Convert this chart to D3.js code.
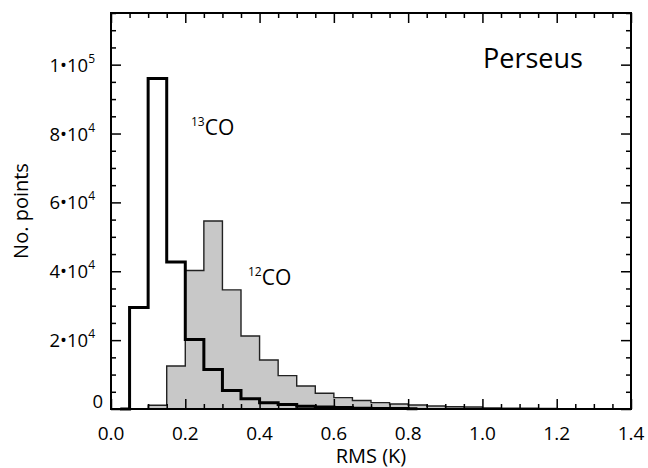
<!DOCTYPE html>
<html>
<head>
<meta charset="utf-8">
<script src="https://cdn.jsdelivr.net/npm/d3@7"></script>
<style>
  body { margin: 0; background: #fff; }
  text { font-family: "Open Sans", "DejaVu Sans", sans-serif; fill: #000; }
</style>
</head>
<body>
<div id="container"></div>
<script>
// bin centres (K) and counts
const centers13 = [0.025, 0.075, 0.125, 0.175, 0.225, 0.275, 0.325, 0.375, 0.425, 0.475, 0.525, 0.575, 0.625, 0.675, 0.725, 0.775, 0.825];
const counts13  = [0, 29500, 96000, 42700, 20200, 11500, 5400, 3000, 1850, 1300, 800, 580, 400, 250, 170, 110, 70];

const centers12 = [0.025, 0.075, 0.125, 0.175, 0.225, 0.275, 0.325, 0.375, 0.425, 0.475, 0.525, 0.575, 0.625, 0.675,
                   0.725, 0.775, 0.825, 0.875, 0.925, 0.975, 1.025, 1.075, 1.125, 1.175, 1.225, 1.275, 1.325, 1.375];
const counts12  = [0, 0, 1100, 12500, 40200, 54600, 34600, 21200, 14250, 9700, 6700, 4560, 3300, 2450,
                   1850, 1450, 1150, 870, 670, 560, 300, 250, 200, 150, 100, 80, 60, 40];

const xMajor = [0.0, 0.2, 0.4, 0.6, 0.8, 1.0, 1.2, 1.4];
const yMajor = [0, 20000, 40000, 60000, 80000, 100000];
const yLabels = [["0", ""], ["2\u202210", "4"], ["4\u202210", "4"], ["6\u202210", "4"], ["8\u202210", "4"], ["1\u202210", "5"]];

const w = 648, h = 468;
const pl = 111, pr = 631, pt = 13, pb = 409;

const x = d3.scaleLinear().domain([0, 1.4]).range([pl, pr]);
const y = d3.scaleLinear().domain([0, 115000]).range([pb, pt]);

const svg = d3.select("#container").append("svg")
  .attr("width", w).attr("height", h);

const pts12 = centers12.map((c, i) => [c, counts12[i]]);
const pts13 = centers13.map((c, i) => [c, counts13[i]]);

// 12CO filled histogram
svg.append("path")
  .datum(pts12)
  .attr("d", d3.area().curve(d3.curveStep).x(d => x(d[0])).y0(y(0)).y1(d => y(d[1])))
  .attr("fill", "#c8c8c8");
svg.append("path")
  .datum(pts12)
  .attr("d", d3.line().curve(d3.curveStep).x(d => x(d[0])).y(d => y(d[1])))
  .attr("fill", "none").attr("stroke", "#222").attr("stroke-width", 1.4);

// 13CO outline histogram
svg.append("path")
  .datum(pts13)
  .attr("d", d3.line().curve(d3.curveStep).x(d => x(d[0])).y(d => y(d[1])))
  .attr("fill", "none").attr("stroke", "#000").attr("stroke-width", 3)
  .attr("stroke-linejoin", "miter");

// axes: ticks on all four sides
const xMinor = d3.range(0, 1.4001, 0.05).filter(v => Math.abs(v / 0.2 - Math.round(v / 0.2)) > 1e-6);
const yMinor = d3.range(0, 115001, 5000).filter(v => v % 20000 !== 0);

function axis(gen, scale, major, minor, tf) {
  const g = svg.append("g").attr("transform", tf);
  g.call(gen(scale).tickValues(major).tickSize(10).tickFormat(""));
  g.append("g").call(gen(scale).tickValues(minor).tickSize(5).tickFormat(""));
  g.selectAll(".domain").remove();
  g.selectAll("line").attr("stroke", "#000").attr("stroke-width", 1.5);
  return g;
}
axis(d3.axisTop, x, xMajor, xMinor, `translate(0,${pb})`);
axis(d3.axisBottom, x, xMajor, xMinor, `translate(0,${pt})`);
axis(d3.axisRight, y, yMajor, yMinor, `translate(${pl},0)`);
axis(d3.axisLeft, y, yMajor, yMinor, `translate(${pr},0)`);

svg.append("rect")
  .attr("x", pl).attr("y", pt).attr("width", pr - pl).attr("height", pb - pt)
  .attr("fill", "none").attr("stroke", "#000").attr("stroke-width", 2);

// tick labels
svg.selectAll(".xlab").data(xMajor).enter().append("text")
  .attr("x", d => x(d)).attr("y", 440)
  .attr("text-anchor", "middle").attr("font-size", 19)
  .text(d => d.toFixed(1));

const yl = svg.selectAll(".ylab").data(yMajor).enter().append("text")
  .attr("x", (d, i) => i === 0 ? 103 : 95)
  .attr("y", (d, i) => y(d) + (i === 0 ? -1 : 7))
  .attr("text-anchor", "end").attr("font-size", 18.5);
yl.append("tspan").text((d, i) => yLabels[i][0]);
yl.append("tspan").attr("font-size", 12).attr("dy", -9).text((d, i) => yLabels[i][1]);

// titles
svg.append("text").attr("x", (pl + pr) / 2).attr("y", 463)
  .attr("text-anchor", "middle").attr("font-size", 20).text("RMS (K)");
svg.append("text").attr("transform", `translate(28,${(pt + pb) / 2}) rotate(-90)`)
  .attr("text-anchor", "middle").attr("font-size", 20).text("No. points");

svg.append("text").attr("x", 483).attr("y", 68).attr("font-size", 27).text("Perseus");

function coLabel(px, py, iso) {
  const t = svg.append("text").attr("x", px).attr("y", py).attr("font-size", 21);
  t.append("tspan").attr("font-size", 12).attr("dy", -9).text(iso);
  t.append("tspan").attr("dy", 9).text("CO");
}
coLabel(191, 135, "13");
coLabel(248, 285, "12");
</script>
</body>
</html>
